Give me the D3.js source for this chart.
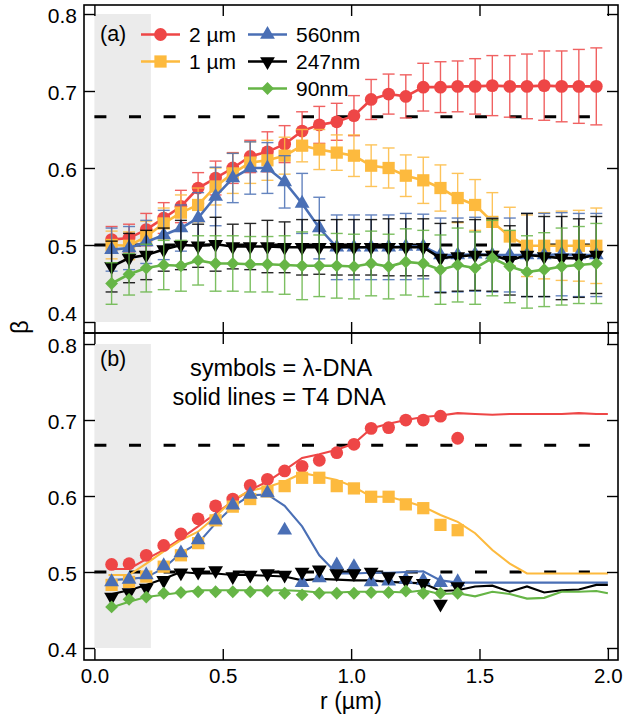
<!DOCTYPE html>
<html><head><meta charset="utf-8">
<script src="https://cdn.jsdelivr.net/npm/d3@7"></script>
<style>body{margin:0;background:#fff} svg{display:block} text{font-family:"Liberation Sans",Arial,Helvetica,sans-serif;fill:#000}</style>
</head><body><svg id="c" width="623" height="719"></svg>
<script>
// ---------- data ----------
const rLambda = [0.067,0.135,0.202,0.270,0.337,0.404,0.472,0.539,0.607,0.674,0.741,0.809,0.876,0.944,1.011,1.078,1.146,1.213,1.281,1.348,1.415,1.483,1.550,1.618,1.685,1.752,1.820,1.887,1.955];
const rT4 = [0.055,0.135,0.202,0.270,0.337,0.404,0.472,0.539,0.607,0.674,0.741,0.809,0.876,0.944,1.011,1.078,1.146,1.213,1.281,1.348,1.415,1.483,1.550,1.618,1.685,1.752,1.820,1.887,1.955,2.000];

const seriesNames = ["2 µm","1 µm","560nm","247nm","90nm"];

// panel (a): lambda-DNA mean and error
const a2um = [0.507,0.509,0.520,0.535,0.550,0.574,0.587,0.600,0.615,0.621,0.631,0.648,0.656,0.660,0.668,0.689,0.696,0.693,0.705,0.705,0.706,0.706,0.707,0.706,0.706,0.707,0.706,0.706,0.706];
const a2umErr = [0.017,0.018,0.021,0.020,0.021,0.020,0.022,0.020,0.021,0.026,0.024,0.025,0.024,0.024,0.026,0.026,0.026,0.028,0.031,0.033,0.033,0.036,0.039,0.040,0.042,0.045,0.046,0.048,0.050];
const a1um = [0.500,0.499,0.511,0.528,0.542,0.552,0.576,0.593,0.607,0.610,0.616,0.629,0.624,0.620,0.616,0.603,0.600,0.590,0.584,0.574,0.561,0.552,0.530,0.511,0.499,0.499,0.499,0.499,0.499];
const a1umErr = [0.018,0.018,0.020,0.020,0.023,0.022,0.024,0.026,0.027,0.026,0.024,0.021,0.026,0.023,0.027,0.027,0.026,0.027,0.030,0.030,0.032,0.033,0.038,0.038,0.040,0.043,0.045,0.046,0.049];
const a560 = [0.494,0.496,0.504,0.513,0.522,0.535,0.563,0.587,0.600,0.600,0.582,0.554,0.522,0.497,0.497,0.497,0.497,0.498,0.498,0.487,0.487,0.488,0.487,0.487,0.487,0.487,0.488,0.487,0.487];
const a560Err = [0.028,0.028,0.028,0.032,0.030,0.033,0.038,0.032,0.034,0.033,0.034,0.039,0.040,0.042,0.042,0.042,0.042,0.043,0.042,0.048,0.048,0.048,0.048,0.048,0.054,0.054,0.054,0.054,0.054];
const a247 = [0.472,0.483,0.487,0.494,0.500,0.499,0.501,0.498,0.498,0.498,0.497,0.497,0.497,0.497,0.497,0.497,0.497,0.497,0.497,0.483,0.485,0.487,0.487,0.480,0.487,0.485,0.483,0.483,0.487];
const a247Err = [0.033,0.032,0.032,0.028,0.032,0.028,0.035,0.029,0.030,0.034,0.033,0.036,0.035,0.036,0.036,0.036,0.037,0.037,0.037,0.045,0.045,0.046,0.047,0.045,0.054,0.052,0.054,0.051,0.050];
const a90 = [0.450,0.462,0.470,0.474,0.473,0.480,0.476,0.476,0.475,0.475,0.474,0.473,0.473,0.473,0.472,0.476,0.472,0.478,0.476,0.468,0.474,0.470,0.483,0.472,0.465,0.468,0.472,0.474,0.476];
const a90Err = [0.027,0.027,0.031,0.032,0.033,0.032,0.036,0.036,0.036,0.036,0.038,0.044,0.040,0.042,0.042,0.042,0.042,0.043,0.043,0.045,0.048,0.047,0.049,0.047,0.047,0.048,0.050,0.050,0.052];

// panel (b): lambda-DNA symbols
const b2um = [0.510,0.511,0.522,0.535,0.550,0.570,0.587,0.596,0.614,0.622,0.633,0.639,0.647,0.657,0.668,0.689,0.690,0.700,0.700,0.705,0.676];
const b1um = [0.483,0.487,0.494,0.507,0.522,0.538,0.568,0.586,0.596,0.606,0.613,0.624,0.624,0.613,0.610,0.599,0.599,0.589,0.584,0.562,0.555];
const b560 = [0.487,0.490,0.496,0.508,0.525,0.542,0.568,0.588,0.602,0.604,0.555,0.486,0.492,0.509,0.507,0.487,0.488,0.490,0.489,0.486,0.487];
const b247 = [0.467,0.473,0.479,0.489,0.499,0.500,0.502,0.494,0.496,0.498,0.496,0.500,0.503,0.498,0.498,0.500,0.494,0.489,0.485,0.458,0.481];
const b90 = [0.454,0.464,0.467,0.472,0.473,0.474,0.474,0.474,0.474,0.475,0.472,0.470,0.472,0.472,0.472,0.473,0.473,0.475,0.472,0.472,0.472];

// panel (b): T4 DNA solid lines
const t2um = [0.504,0.504,0.517,0.529,0.544,0.560,0.577,0.593,0.608,0.619,0.634,0.650,0.655,0.661,0.669,0.689,0.695,0.700,0.704,0.706,0.709,0.708,0.707,0.708,0.708,0.708,0.708,0.709,0.708,0.708];
const t1um = [0.496,0.496,0.511,0.527,0.542,0.553,0.573,0.595,0.607,0.612,0.619,0.630,0.626,0.621,0.612,0.599,0.599,0.593,0.586,0.575,0.566,0.551,0.529,0.511,0.498,0.498,0.498,0.498,0.498,0.498];
const t560 = [0.489,0.491,0.493,0.505,0.525,0.538,0.564,0.586,0.601,0.602,0.587,0.560,0.522,0.498,0.498,0.499,0.499,0.500,0.501,0.489,0.486,0.486,0.486,0.486,0.486,0.486,0.486,0.486,0.486,0.486];
const t247 = [0.470,0.476,0.483,0.491,0.500,0.498,0.498,0.496,0.496,0.495,0.494,0.489,0.491,0.490,0.489,0.489,0.487,0.486,0.485,0.475,0.476,0.481,0.482,0.474,0.481,0.473,0.476,0.477,0.483,0.483];
const t90 = [0.452,0.461,0.467,0.470,0.473,0.476,0.476,0.476,0.476,0.476,0.476,0.475,0.473,0.473,0.474,0.474,0.474,0.473,0.476,0.471,0.472,0.468,0.474,0.471,0.465,0.466,0.474,0.474,0.475,0.472];

const refBeta = [2/3, 0.5];
const refRange = [0, 1.93];
const shadeR = [0, 0.22];
const shadeBeta = [0.4, 0.8];
const xTicks = [0, 0.5, 1.0, 1.5, 2.0];
const yTicks = [0.4, 0.5, 0.6, 0.7, 0.8];

// ---------- style ----------
const colors = ["#EE4646","#FDBA3E","#4A6FB5","#000000","#66B546"];
const shapes = ["circle","square","triangle","triangleDown","diamond"];
const aMeans = [a2um,a1um,a560,a247,a90];
const aErrs = [a2umErr,a1umErr,a560Err,a247Err,a90Err];
const bSyms = [b2um,b1um,b560,b247,b90];
const tLines = [t2um,t1um,t560,t247,t90];

const svg = d3.select("#c");
const L = 84, R = 618;
const x = d3.scaleLinear().domain([-0.0405, 2.0395]).range([L, R]);
const yA = d3.scaleLinear().domain([0.3857, 0.8117]).range([333, 5]);
const yB = d3.scaleLinear().domain([0.3842, 0.8145]).range([660, 333]);

function symPath(shape){
  if (shape==="circle") return d3.symbol(d3.symbolCircle, 128)();
  if (shape==="square") return d3.symbol(d3.symbolSquare, 150)();
  if (shape==="triangle"||shape==="triangleDown") return d3.symbol(d3.symbolTriangle, 95)();
  if (shape==="diamond") return d3.symbol(d3.symbolSquare, 82)();
}
function symRot(shape){ return shape==="triangleDown"?180:(shape==="diamond"?45:0); }
function drawSym(g, shape, cx, cy, color){
  g.append("path").attr("d", symPath(shape))
   .attr("transform", `translate(${cx},${cy}) rotate(${symRot(shape)})`)
   .attr("fill", color).attr("stroke","none");
}

function panel(y){
  const g = svg.append("g");
  g.append("rect").attr("x", x(shadeR[0])).attr("y", y(shadeBeta[1]))
    .attr("width", x(shadeR[1])-x(shadeR[0])).attr("height", y(shadeBeta[0])-y(shadeBeta[1]))
    .attr("fill","#EBEBEB");
  refBeta.forEach(b=>{
    g.append("line").attr("x1", x(refRange[0])).attr("x2", x(refRange[1]))
     .attr("y1", y(b)).attr("y2", y(b)).attr("stroke","#000").attr("stroke-width",3)
     .attr("stroke-dasharray","12,22.6");
  });
  return g;
}

function frame(y, labelsBottom, yLabelAdjust){
  const g = svg.append("g");
  const [y0,y1] = y.range();
  const ax = (gen, tx, ty)=> g.append("g").attr("transform",`translate(${tx},${ty})`).call(gen);
  const tk = 11;
  const left = ax(d3.axisLeft(y).tickValues(yTicks).tickSize(-tk).tickSizeOuter(0).tickPadding(7).tickFormat(d3.format(".1f")), L, 0);
  ax(d3.axisRight(y).tickValues(yTicks).tickSize(-tk).tickSizeOuter(0).tickFormat(""), R, 0);
  ax(d3.axisTop(x).tickValues(xTicks).tickSize(-tk).tickSizeOuter(0).tickFormat(""), 0, y1);
  const bottom = ax(d3.axisBottom(x).tickValues(xTicks).tickSize(-tk).tickSizeOuter(0).tickFormat(labelsBottom?d3.format(".1f"):""), 0, y0);
  g.selectAll(".domain").remove();
  g.selectAll(".tick line").attr("stroke","#000").attr("stroke-width",1.4);
  left.selectAll("text").attr("font-size",21).attr("dy","0.42em")
    .attr("font-family",'"Liberation Sans",Arial,sans-serif')
    .attr("transform", d => yLabelAdjust && yLabelAdjust[d] ? `translate(0,${yLabelAdjust[d]})` : null);
  bottom.selectAll("text").attr("font-size",20.5).attr("font-family",'"Liberation Sans",Arial,sans-serif').attr("y", 8.5);
  g.append("rect").attr("x",L).attr("y",y1).attr("width",R-L).attr("height",y0-y1)
    .attr("fill","none").attr("stroke","#000").attr("stroke-width",1.6);
}

// ---------- panel (a) ----------
const gA = panel(yA);
const lineA = d3.line().x((d,i)=>x(rLambda[i])).y(d=>yA(d));
aMeans.forEach((vals, s)=>{
  const c = colors[s], errs = aErrs[s];
  const eg = gA.append("g").attr("stroke", c).attr("stroke-width",1.4).attr("opacity",0.85);
  vals.forEach((v,i)=>{
    const cx = x(rLambda[i]), yt = yA(v+errs[i]), yb = yA(v-errs[i]);
    eg.append("line").attr("x1",cx).attr("x2",cx).attr("y1",yt).attr("y2",yb);
    eg.append("line").attr("x1",cx-6).attr("x2",cx+6).attr("y1",yt).attr("y2",yt);
    eg.append("line").attr("x1",cx-6).attr("x2",cx+6).attr("y1",yb).attr("y2",yb);
  });
  gA.append("path").attr("d", lineA(vals)).attr("fill","none").attr("stroke",c).attr("stroke-width",2.6);
  const mg = gA.append("g");
  vals.forEach((v,i)=> drawSym(mg, shapes[s], x(rLambda[i]), yA(v), c));
});

// legend (a)
const legPos = [[141,34.5],[141,61.5],[248,34.5],[248,61.5],[248,88.5]];
seriesNames.forEach((name,s)=>{
  const [lx,ly] = legPos[s];
  svg.append("line").attr("x1",lx).attr("x2",lx+39).attr("y1",ly).attr("y2",ly)
    .attr("stroke",colors[s]).attr("stroke-width",2.6);
  drawSym(svg, shapes[s], lx+19.5, ly, colors[s]);
  svg.append("text").attr("x", lx+48).attr("y", ly+7.3).attr("font-size",21).text(name);
});
svg.append("text").attr("x",100).attr("y",40.5).attr("font-size",21.5).text("(a)");

// ---------- panel (b) ----------
const gB = panel(yB);
const lineT = d3.line().x((d,i)=>x(rT4[i])).y(d=>yB(d));
tLines.forEach((vals,s)=>{
  gB.append("path").attr("d", lineT(vals)).attr("fill","none").attr("stroke",colors[s]).attr("stroke-width",2.1);
});
bSyms.forEach((vals,s)=>{
  const mg = gB.append("g");
  vals.forEach((v,i)=> drawSym(mg, shapes[s], x(rLambda[i]), yB(v), colors[s]));
});
svg.append("text").attr("x",100).attr("y",365.5).attr("font-size",21.5).text("(b)");
svg.append("text").attr("x",281).attr("y",376).attr("font-size",23.5).attr("text-anchor","middle").text("symbols = λ-DNA");
svg.append("text").attr("x",279).attr("y",405).attr("font-size",23.5).attr("text-anchor","middle").text("solid lines = T4 DNA");

// ---------- frames / axes ----------
frame(yA, false, {0.4: -10});
frame(yB, true, null);

// axis titles
svg.append("text").attr("x",351).attr("y",709).attr("font-size",23).attr("text-anchor","middle").text("r (µm)");
svg.append("text").attr("transform","translate(28,327) rotate(-90)").attr("font-size",24).attr("text-anchor","middle").text("β");
</script></body></html>
